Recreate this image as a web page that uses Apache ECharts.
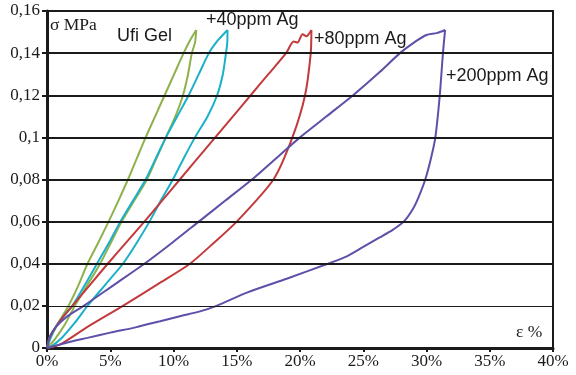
<!DOCTYPE html>
<html>
<head>
<meta charset="utf-8">
<script src="https://cdn.jsdelivr.net/npm/echarts@6/dist/echarts.min.js"></script>
<style>
  html, body { margin: 0; padding: 0; background: #fff; }
  #chart { width: 576px; height: 375px; }
</style>
</head>
<body>
<div id="chart"></div>
<script>
// Strain (%) / stress (MPa) hysteresis loops: loading branch, then unloading branch.
const ufiLoad = [[0,0],[0.3,0.005],[0.7,0.01],[1.2,0.015],[1.7,0.02],[2.5,0.03],[3.2,0.04],[4.05,0.05],[4.87,0.06],[5.65,0.07],[6.4,0.08],[7.1,0.09],[7.8,0.1],[8.55,0.11],[9.3,0.12],[10.05,0.13],[10.8,0.14],[11.3,0.146],[11.8,0.151]];
const ufiUnload = [[11.8,0.151],[11.7,0.145],[11.45,0.14],[11.15,0.13],[10.75,0.12],[10.15,0.11],[9.4,0.1],[8.65,0.09],[7.9,0.08],[6.9,0.07],[5.9,0.06],[5.05,0.05],[4.2,0.04],[3.2,0.03],[2.2,0.02],[1.4,0.011],[0.6,0.004],[0,0]];

const ag40Load = [[0,0],[0.3,0.005],[0.7,0.01],[1.3,0.015],[2.0,0.02],[3.0,0.03],[3.95,0.04],[4.9,0.05],[5.8,0.06],[6.8,0.07],[7.8,0.08],[8.6,0.09],[9.4,0.1],[10.3,0.11],[11.2,0.12],[12.0,0.13],[12.8,0.14],[13.5,0.146],[14.27,0.151]];
const ag40Unload = [[14.27,0.151],[14.25,0.145],[14.15,0.14],[13.9,0.13],[13.45,0.12],[12.7,0.11],[11.7,0.1],[10.8,0.09],[9.95,0.08],[9.0,0.07],[8.1,0.06],[7.1,0.05],[6.0,0.04],[4.6,0.03],[3.2,0.02],[2.2,0.012],[1.2,0.005],[0.4,0.001],[0,0]];

const ag80Load = [[0,0],[0.2,0.005],[0.7,0.01],[1.3,0.015],[2.0,0.02],[3.4,0.03],[4.8,0.04],[6.25,0.05],[7.7,0.06],[9.1,0.07],[10.5,0.08],[11.9,0.09],[13.3,0.1],[14.7,0.11],[16.1,0.12],[17.5,0.13],[18.9,0.14],[19.5,0.1455],[19.8,0.145],[20.2,0.149],[20.5,0.148],[20.9,0.151]];
const ag80Unload = [[20.9,0.151],[20.85,0.14],[20.4,0.12],[19.4,0.1],[17.9,0.08],[15.0,0.06],[13.2,0.05],[11.3,0.04],[8.95,0.031],[6.0,0.02],[3.2,0.01],[1.05,0.0017],[0,0]];

const ag200Load = [[0,0],[0.2,0.005],[0.7,0.01],[1.6,0.015],[2.9,0.02],[5.3,0.03],[7.7,0.04],[9.9,0.05],[12.0,0.06],[14.1,0.07],[16.2,0.08],[18.1,0.09],[20.0,0.1],[22.1,0.11],[24.2,0.12],[26.3,0.131],[27.9,0.14],[29.0,0.145],[30.0,0.1486],[30.8,0.1495],[31.47,0.151]];
const ag200Unload = [[31.47,0.151],[31.3,0.14],[31.05,0.12],[30.7,0.1],[30.35,0.09],[29.9,0.08],[29.4,0.072],[28.96,0.0664],[28.2,0.06],[27.3,0.056],[26.3,0.0525],[25.0,0.048],[23.7,0.0435],[22.2,0.04],[19.0,0.033],[15.8,0.0263],[13.4,0.02],[12.1,0.0174],[10.5,0.0151],[8.95,0.0127],[7.0,0.0098],[5.0,0.0073],[3.2,0.0048],[1.6,0.0026],[0.5,0.0008],[0,0]];

// Horizontal reference lines (the lowest one is drawn thinner)
const gridLevels = [0.02, 0.04, 0.06, 0.08, 0.1, 0.12, 0.14];

const colors = { ufi: '#8db24c', ag40: '#1bb0c9', ag80: '#c23a3c', ag200: '#5c50a8' };

function loop(data, color) {
  return {
    type: 'line', data: data, showSymbol: false, smooth: 0.25,
    lineStyle: { color: color, width: 2 }, silent: true, animation: false, z: 3
  };
}

const series = [
  loop(ufiLoad, colors.ufi), loop(ufiUnload, colors.ufi),
  loop(ag40Load, colors.ag40), loop(ag40Unload, colors.ag40),
  loop(ag80Load, colors.ag80), loop(ag80Unload, colors.ag80),
  loop(ag200Load, colors.ag200), loop(ag200Unload, colors.ag200)
];

series.push({
  type: 'line', data: [], silent: true, animation: false, z: 1,
  markLine: {
    silent: true, symbol: 'none', animation: false, label: { show: false },
    data: gridLevels.map(v => ({ yAxis: v, lineStyle: { color: '#1a1a1a', type: 'solid', width: v === 0.02 ? 1 : 2 } }))
  }
});

const serif = '"Liberation Serif", "DejaVu Serif", serif';
const sans = '"Liberation Sans", Arial, sans-serif';

const chart = echarts.init(document.getElementById('chart'), null, { renderer: 'canvas' });
chart.setOption({
  backgroundColor: '#fff',
  animation: false,
  grid: { left: 47, right: 23, top: 11, bottom: 27, show: true, borderColor: '#1a1a1a', borderWidth: 2 },
  xAxis: {
    type: 'value', min: 0, max: 40, interval: 5,
    axisLine: { lineStyle: { color: '#1a1a1a', width: 3 } },
    axisTick: { show: true, length: 4, lineStyle: { color: '#1a1a1a', width: 2 } },
    axisLabel: { formatter: '{value}%', color: '#1a1a1a', fontFamily: serif, fontSize: 17, margin: 5 },
    splitLine: { show: false }
  },
  yAxis: {
    type: 'value', min: 0, max: 0.16, interval: 0.02,
    axisLine: { show: true, lineStyle: { color: '#1a1a1a', width: 3 } },
    axisTick: { show: true, length: 5, lineStyle: { color: '#1a1a1a', width: 2 } },
    axisLabel: {
      color: '#1a1a1a', fontFamily: serif, fontSize: 17, margin: 7,
      formatter: v => String(+v.toFixed(2)).replace('.', ',')
    },
    splitLine: { show: false }
  },
  graphic: [
    { type: 'text', left: 50, top: 16, style: { text: 'σ MPa', font: '17.5px ' + serif, fill: '#1a1a1a' } },
    { type: 'text', left: 516, top: 323, style: { text: 'ε %', font: '17.5px ' + serif, fill: '#1a1a1a' } },
    { type: 'text', left: 117, top: 27, style: { text: 'Ufi Gel', font: '18px ' + sans, fill: '#1a1a1a' } },
    { type: 'text', left: 206, top: 11, style: { text: '+40ppm Ag', font: '18px ' + sans, fill: '#1a1a1a' } },
    { type: 'text', left: 314, top: 30, style: { text: '+80ppm Ag', font: '18px ' + sans, fill: '#1a1a1a' } },
    { type: 'text', left: 446, top: 67, style: { text: '+200ppm Ag', font: '18px ' + sans, fill: '#1a1a1a' } }
  ],
  series: series
});
</script>
</body>
</html>
